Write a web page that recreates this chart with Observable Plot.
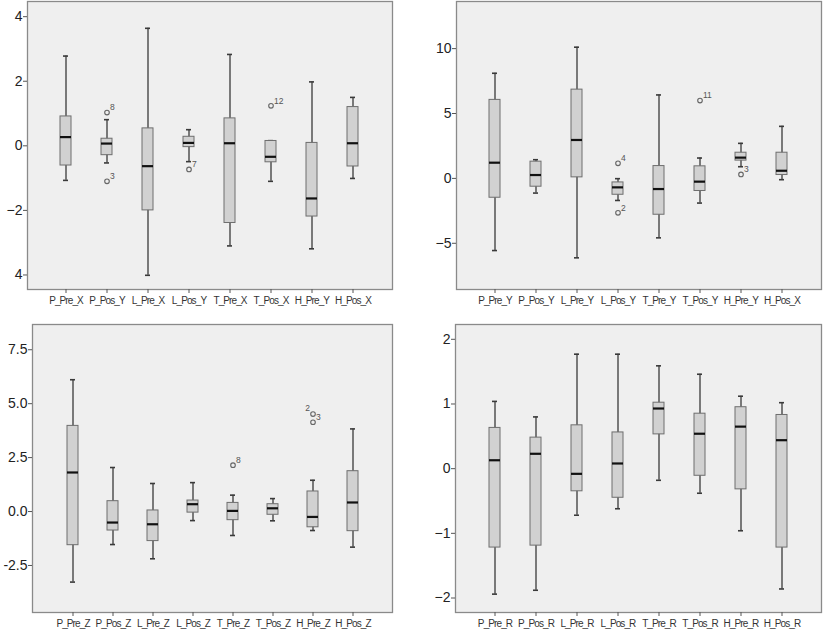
<!DOCTYPE html>
<html><head><meta charset="utf-8">
<script src="https://cdn.jsdelivr.net/npm/d3@7"></script>
<script src="https://cdn.jsdelivr.net/npm/@observablehq/plot@0.6"></script>
<style>
body{margin:0;background:#fff;}
#wrap{position:relative;width:824px;height:633px;overflow:hidden;}
.panel{position:absolute;}
.panel svg{overflow:visible;}
.panel g[aria-label="x-axis tick label"]{letter-spacing:-0.9px;}
</style></head><body><div id="wrap"></div>
<script>
// ---------- Panel 1 (top-left) ----------
const cats1 = ["P_Pre_X","P_Pos_Y","L_Pre_X","L_Pos_Y","T_Pre_X","T_Pos_X","H_Pre_Y","H_Pos_X"];
const min1  = [-1.07,-0.53,-4.01,-0.49,-3.10,-1.10,-3.19,-1.01];
const q1_1  = [-0.61,-0.29,-2.00,-0.04,-2.39,-0.51,-2.19,-0.64];
const med1  = [ 0.27, 0.07,-0.63, 0.09, 0.08,-0.34,-1.63, 0.08];
const q3_1  = [ 0.91, 0.22, 0.54, 0.28, 0.85, 0.15, 0.09, 1.20];
const max1  = [ 2.78, 0.81, 3.64, 0.50, 2.83, 0.16, 1.98, 1.50];
const outCat1 = ["P_Pos_Y","P_Pos_Y","L_Pos_Y","T_Pos_X"];
const outVal1 = [1.03,-1.10,-0.73,1.24];
const outLab1 = ["8","3","7","12"];
const outSide1 = ["right","right","right","right"];
const yTicks1 = [4,2,0,-2,-4];
const yLabels1 = ["4","2","0","\u22122","4"];

// ---------- Panel 2 (top-right) ----------
const cats2 = ["P_Pre_Y","P_Pos_Y","L_Pre_Y","L_Pos_Y","T_Pre_Y","T_Pos_Y","H_Pre_Y","H_Pos_X"];
const min2  = [-5.56,-1.13,-6.12,-1.70,-4.58,-1.90,0.90,-0.10];
const q1_2  = [-1.49,-0.64, 0.08,-1.26,-2.80,-0.97,1.37, 0.26];
const med2  = [ 1.21, 0.26, 2.96,-0.69,-0.82,-0.25,1.60, 0.59];
const q3_2  = [ 6.05, 1.29, 6.84,-0.31, 0.95, 0.93,1.98, 1.98];
const max2  = [ 8.10, 1.44,10.11,-0.02, 6.43, 1.57,2.70, 4.01];
const outCat2 = ["L_Pos_Y","L_Pos_Y","T_Pos_Y","H_Pre_Y"];
const outVal2 = [1.16,-2.65,6.00,0.31];
const outLab2 = ["4","2","11","3"];
const outSide2 = ["right","right","right","right"];
const yTicks2 = [10,5,0,-5];
const yLabels2 = ["10","5","0","\u22125"];

// ---------- Panel 3 (bottom-left) ----------
const cats3 = ["P_Pre_Z","P_Pos_Z","L_Pre_Z","L_Pos_Z","T_Pre_Z","T_Pos_Z","H_Pre_Z","H_Pos_Z"];
const min3  = [-3.27,-1.53,-2.19,-0.42,-1.11,-0.43,-0.88,-1.65];
const q1_3  = [-1.56,-0.88,-1.37,-0.05,-0.40,-0.15,-0.73,-0.91];
const med3  = [ 1.81,-0.51,-0.59, 0.34, 0.03, 0.15,-0.25, 0.42];
const q3_3  = [ 3.97, 0.48, 0.05, 0.51, 0.40, 0.34, 0.93, 1.87];
const max3  = [ 6.11, 2.04, 1.30, 1.34, 0.76, 0.60, 1.45, 3.83];
const outCat3 = ["T_Pre_Z","H_Pre_Z","H_Pre_Z"];
const outVal3 = [2.15,4.52,4.14];
const outLab3 = ["8","2","3"];
const outSide3 = ["right","left","right"];
const yTicks3 = [7.5,5.0,2.5,0.0,-2.5];
const yLabels3 = ["7.5","5.0","2.5","0.0","-2.5"];

// ---------- Panel 4 (bottom-right) ----------
const cats4 = ["P_Pre_R","P_Pos_R","L_Pre_R","L_Pos_R","T_Pre_R","T_Pos_R","H_Pre_R","H_Pos_R"];
const min4  = [-1.94,-1.88,-0.72,-0.62,-0.18,-0.38,-0.96,-1.86];
const q1_4  = [-1.22,-1.19,-0.35,-0.45, 0.53,-0.11,-0.32,-1.22];
const med4  = [ 0.13, 0.23,-0.08, 0.08, 0.93, 0.54, 0.65, 0.44];
const q3_4  = [ 0.63, 0.48, 0.67, 0.56, 1.02, 0.85, 0.95, 0.83];
const max4  = [ 1.04, 0.80, 1.77, 1.77, 1.59, 1.46, 1.12, 1.02];
const outCat4 = [];
const outVal4 = [];
const outLab4 = [];
const outSide4 = [];
const yTicks4 = [2,1,0,-1,-2];
const yLabels4 = ["2","1","0","\u22121","\u22122"];

function panel(o) {
  const data = o.cats.map((c, i) => ({cat: c, min: o.min[i], q1: o.q1[i], med: o.med[i], q3: o.q3[i], max: o.max[i]}));
  const outs = o.outCat.map((c, i) => ({cat: c, v: o.outVal[i], label: o.outLab[i], side: o.outSide[i]}));
  const plot = Plot.plot({
    width: o.width, height: o.height,
    marginLeft: o.ml, marginRight: o.mr, marginTop: o.mt, marginBottom: o.mb,
    style: {fontFamily: "'Liberation Sans', Arial, sans-serif", background: "transparent", color: "#222"},
    x: {type: "band", domain: o.cats, paddingInner: 0.73, paddingOuter: 0.81, label: null},
    y: {domain: o.ydom, label: null},
    marks: [
      Plot.frame({fill: "#efefef", stroke: null}),
      Plot.ruleX(data, {x: "cat", y1: "min", y2: "max", stroke: "#3a3a3a", strokeWidth: 1.3}),
      Plot.tickY(data, {x: "cat", y: "min", stroke: "#3a3a3a", strokeWidth: 1.6, insetLeft: 3, insetRight: 3}),
      Plot.tickY(data, {x: "cat", y: "max", stroke: "#3a3a3a", strokeWidth: 1.6, insetLeft: 3, insetRight: 3}),
      Plot.barY(data, {x: "cat", y1: "q1", y2: "q3", fill: "#d1d1d1", stroke: "#6e6e6e", strokeWidth: 1}),
      Plot.tickY(data, {x: "cat", y: "med", stroke: "#111", strokeWidth: 2.2}),
      Plot.dot(outs, {x: "cat", y: "v", r: 2.3, stroke: "#666", strokeWidth: 1.1, fill: "none"}),
      Plot.text(outs.filter(d => d.side === "right"), {x: "cat", y: "v", text: "label", dx: 3, dy: -5, textAnchor: "start", fontSize: 8.5, fill: "#555"}),
      Plot.text(outs.filter(d => d.side === "left"), {x: "cat", y: "v", text: "label", dx: -3, dy: -6, textAnchor: "end", fontSize: 8.5, fill: "#555"}),
      Plot.frame({stroke: "#8a8a8a", strokeWidth: 1.3}),
      Plot.axisY({ticks: o.yTicks, tickFormat: d => o.yLabels[o.yTicks.indexOf(d)], tickSize: 4, tickPadding: 1, fontSize: 14, stroke: "#555", fill: "#222"}),
      Plot.axisX({tickSize: 4, tickPadding: 3, fontSize: 10, stroke: "#555", fill: "#333"})
    ]
  });
  const div = document.createElement("div");
  div.className = "panel";
  div.style.left = o.left + "px";
  div.style.top = o.top + "px";
  div.appendChild(plot);
  document.getElementById("wrap").appendChild(div);
}

panel({cats: cats1, min: min1, q1: q1_1, med: med1, q3: q3_1, max: max1, outCat: outCat1, outVal: outVal1, outLab: outLab1, outSide: outSide1,
  yTicks: yTicks1, yLabels: yLabels1, ydom: [-4.45, 4.47], left: 0, top: 0, width: 412, height: 310, ml: 27, mr: 20, mt: 1, mb: 21});
panel({cats: cats2, min: min2, q1: q1_2, med: med2, q3: q3_2, max: max2, outCat: outCat2, outVal: outVal2, outLab: outLab2, outSide: outSide2,
  yTicks: yTicks2, yLabels: yLabels2, ydom: [-8.56, 13.63], left: 412, top: 0, width: 412, height: 310, ml: 44, mr: 3, mt: 1, mb: 21});
panel({cats: cats3, min: min3, q1: q1_3, med: med3, q3: q3_3, max: max3, outCat: outCat3, outVal: outVal3, outLab: outLab3, outSide: outSide3,
  yTicks: yTicks3, yLabels: yLabels3, ydom: [-4.68, 8.67], left: 0, top: 310, width: 412, height: 323, ml: 32, mr: 20, mt: 14, mb: 21});
panel({cats: cats4, min: min4, q1: q1_4, med: med4, q3: q3_4, max: max4, outCat: outCat4, outVal: outVal4, outLab: outLab4, outSide: outSide4,
  yTicks: yTicks4, yLabels: yLabels4, ydom: [-2.224, 2.229], left: 412, top: 310, width: 412, height: 323, ml: 43, mr: 3, mt: 14, mb: 21});
</script>
</body></html>
